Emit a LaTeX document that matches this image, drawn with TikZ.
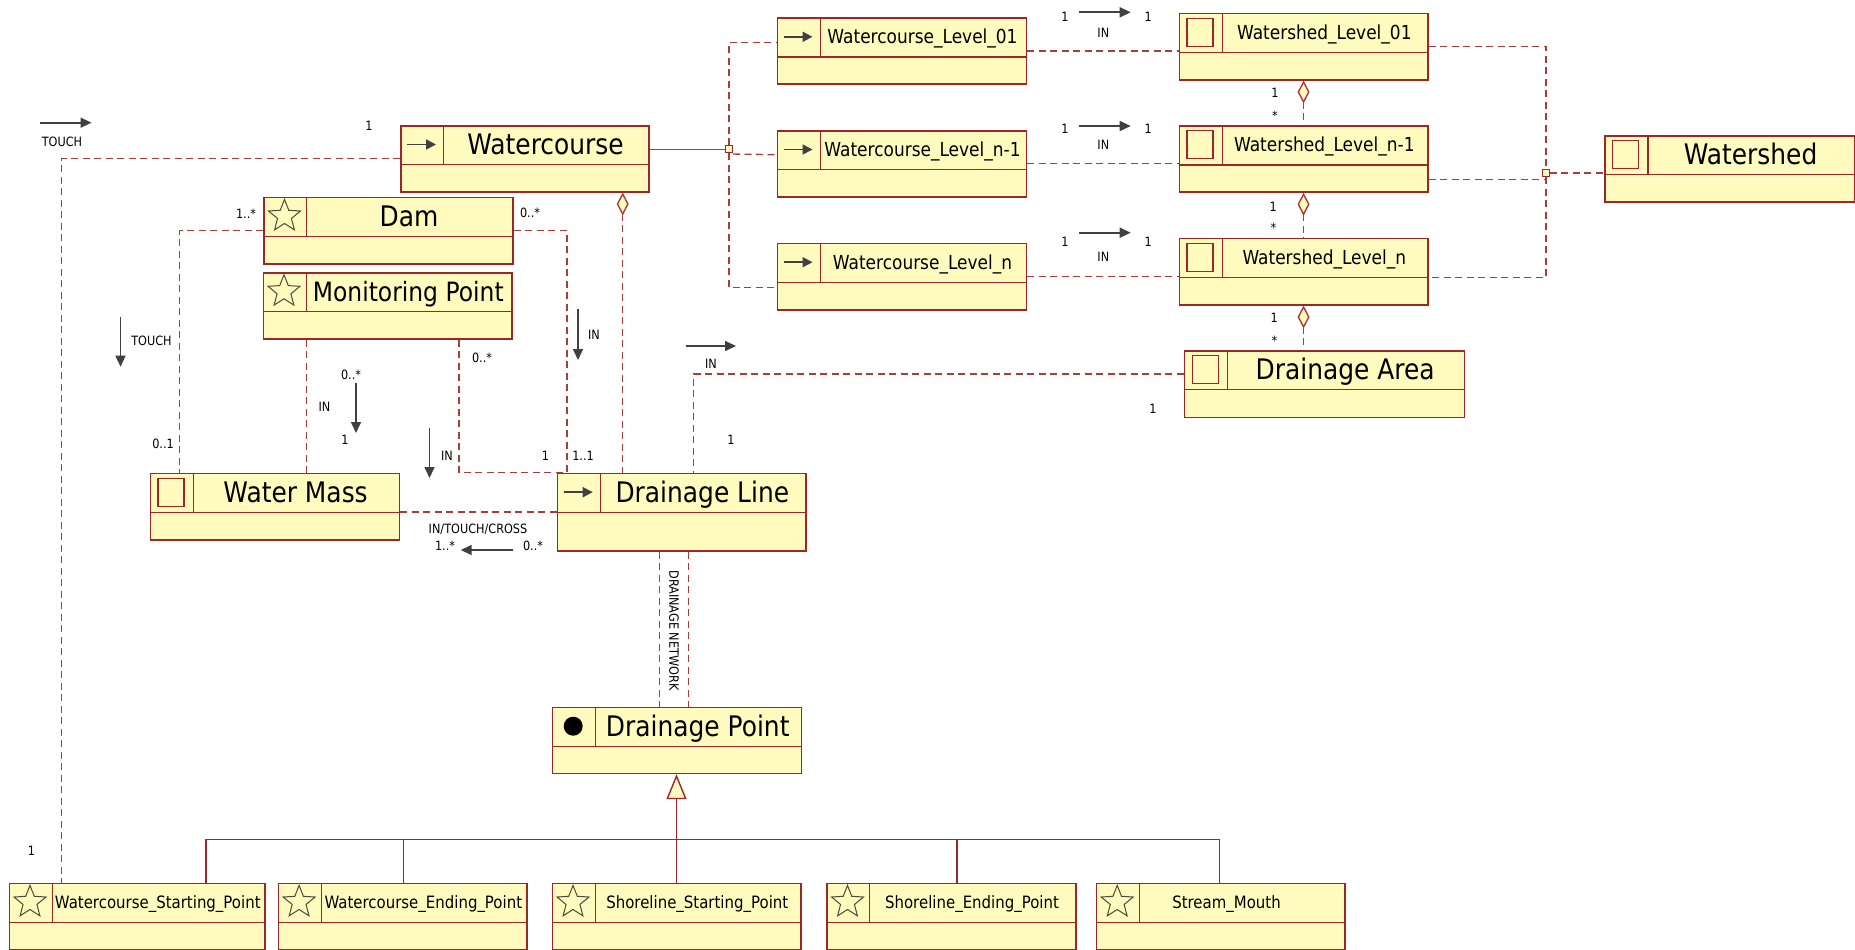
\documentclass[tikz,border=0pt]{standalone}
\usepackage{fontspec}
\setmainfont{DejaVu Sans}[FakeStretch=0.88]
\usepackage{tikz}
\usetikzlibrary{arrows.meta, shapes.geometric}

\definecolor{clsfill}{RGB}{255,250,190}
\definecolor{clsline}{RGB}{155,40,40}
\definecolor{lnkline}{RGB}{170,60,60}
\definecolor{arrgray}{RGB}{64,64,64}
\definecolor{starline}{RGB}{75,75,55}

% class box: name, x, y, width, height, icon style, title style, title
\newcommand{\umlcls}[8]{%
  \node[cls, minimum width=#4pt, minimum height=#5pt] (#1) at (#2,#3) {};
  \node[#6] (#1-i) at (#2+21.5,#3+19.5) {};
  \node[#7] (#1-t) at (#2+21.5+#4/2,#3+19.5) {#8};
}

\begin{document}
\begin{tikzpicture}[
    x=1pt, y=-1pt,
    cls/.style={draw=clsline, fill=clsfill, line width=1.5pt, rectangle, anchor=north west, inner sep=0pt,
      path picture={\draw[clsline, line width=1.4pt]
        ([yshift=-39pt]path picture bounding box.north west) -- ([yshift=-39pt]path picture bounding box.north east)
        ([xshift=43pt]path picture bounding box.north west) -- ([xshift=43pt,yshift=-39pt]path picture bounding box.north west);}},
    ttlL/.style={font=\fontsize{28.3pt}{34pt}\selectfont, text height=20.6pt, text depth=0pt, inner sep=0pt, anchor=center},
    ttlM/.style={font=\fontsize{19.3pt}{23pt}\selectfont, text height=14.1pt, text depth=0pt, inner sep=0pt, anchor=center},
    ttlS/.style={font=\fontsize{17pt}{20pt}\selectfont, text height=12.4pt, text depth=0pt, inner sep=0pt, anchor=center},
    lbl/.style={font=\fontsize{12.8pt}{15pt}\selectfont, text height=9.3pt, text depth=0pt, inner sep=0pt, anchor=center},
    icoarrow/.style={minimum width=29pt, minimum height=14pt, inner sep=0pt,
      path picture={\draw[arrgray, line width=1.8pt, -{Triangle[length=10pt,width=10pt]}]
        (path picture bounding box.west) -- (path picture bounding box.east);}},
    icosq/.style={rectangle, draw=clsline, fill=clsfill, line width=1.3pt, minimum width=26pt, minimum height=28pt, inner sep=0pt},
    icostar/.style={star, star points=5, star point ratio=2.3, draw=starline, line width=1pt, minimum size=33.6pt, inner sep=0pt},
    icodot/.style={circle, fill=black, minimum size=19pt, inner sep=0pt},
    junc/.style={rectangle, draw=clsline, fill=clsfill, line width=1pt, minimum size=7pt, inner sep=0pt},
    assoc/.style={draw=lnkline, line width=1.4pt, dash pattern=on 7pt off 4.5pt},
    agg/.style={assoc, {Diamond[length=23pt,width=12pt,fill=clsfill]}-},
    genl/.style={draw=clsline, line width=1.4pt},
    dirarr/.style={draw=arrgray, line width=1.6pt, -{Triangle[length=11pt,width=10pt]}}
]
\useasboundingbox (0,0) rectangle (1855,950);

% Classes
\umlcls{wc}{400}{125}{248}{66}{icoarrow}{ttlL}{Watercourse}
\umlcls{dam}{263}{196.7}{249}{66.6}{icostar}{ttlL}{Dam}
\umlcls{mp}{262.5}{272}{248.5}{66}{icostar}{ttlL, font=\fontsize{26.6pt}{32pt}\selectfont}{Monitoring Point}
\umlcls{wm}{149.6}{472.7}{249}{66.6}{icosq}{ttlL}{Water Mass}
\umlcls{dl}{556.7}{472.7}{248.3}{77.3}{icoarrow}{ttlL}{Drainage Line}
\umlcls{dp}{551.7}{706.7}{249}{66}{icodot}{ttlL}{Drainage Point}
\umlcls{wl1}{776.5}{17.3}{249}{66}{icoarrow}{ttlM}{Watercourse\_Level\_01}
\umlcls{wlm}{776.5}{130}{249}{66}{icoarrow}{ttlM}{Watercourse\_Level\_n-1}
\umlcls{wln}{776.5}{242.7}{249}{66.3}{icoarrow}{ttlM}{Watercourse\_Level\_n}
\umlcls{ws1}{1178.6}{12.7}{248.4}{66.3}{icosq}{ttlM}{Watershed\_Level\_01}
\umlcls{wsm}{1178.6}{125.3}{248.4}{66}{icosq}{ttlM}{Watershed\_Level\_n-1}
\umlcls{wsn}{1178.6}{237.7}{248.4}{66.3}{icosq}{ttlM}{Watershed\_Level\_n}
\umlcls{da}{1183.7}{350}{280}{66.7}{icosq}{ttlL}{Drainage Area}
\umlcls{wsh}{1604.3}{135}{249.5}{66}{icosq}{ttlL}{Watershed}

% Point subclasses
\umlcls{wsp}{8.5}{882.7}{255.5}{66.6}{icostar}{ttlS}{Watercourse\_Starting\_Point}
\umlcls{wep}{277.6}{882.7}{248.4}{66.6}{icostar}{ttlS}{Watercourse\_Ending\_Point}
\umlcls{ssp}{551.5}{882.7}{248.5}{66.6}{icostar}{ttlS}{Shoreline\_Starting\_Point}
\umlcls{sep}{826}{882.7}{249}{66.6}{icostar}{ttlS}{Shoreline\_Ending\_Point}
\umlcls{sm}{1095.7}{882.7}{248.6}{66.6}{icostar}{ttlS, xshift=-15pt}{Stream\_Mouth}

% Junctions
\node[junc] (jwc) at (729,149.3) {};
\node[junc] (jws) at (1545.9,173) {};
\coordinate (bus) at (675.75,839.3);

% Associations
\draw[assoc] (wc.west) -| ([xshift=53pt]wsp.north west);
\draw[assoc] (dam.west) -| ([xshift=30pt]wm.north west);
\draw[assoc] (dam.east) -| ([xshift=10.3pt]dl.north west);
\draw[assoc] ([xshift=44pt]mp.south west) -- ([xshift=44pt]mp.south west |- wm.north);
\draw[assoc] ([xshift=196.5pt]mp.south west) |- ([xshift=10.3pt]dl.north west);
\draw[agg] ([xshift=222.7pt]wc.south west) -- ([xshift=222.7pt]wc.south west |- dl.north);
\draw[assoc] (wm.east |- dl.west) -- (dl.west);
\draw[assoc] ([yshift=10pt]da.west) -| ([xshift=137pt]dl.north west);
\draw[assoc] ([xshift=102.6pt]dl.south west) -- ([xshift=102.6pt]dl.south west |- dp.north);
\draw[assoc] ([xshift=132pt]dl.south west) -- ([xshift=132pt]dl.south west |- dp.north);

% Watercourse levels
\draw[genl, draw=lnkline] (jwc) -- (jwc -| wc.east);
\draw[assoc] (jwc.north) |- ([yshift=8.6pt]wl1.west);
\draw[assoc] ([yshift=-4.7pt]jwc.east) -- ([yshift=9pt]wlm.west);
\draw[assoc] (jwc.south) |- ([yshift=-10.85pt]wln.west);
\draw[assoc] (wl1.east) -- (wl1.east -| ws1.west);
\draw[assoc] (wlm.east) -- (wlm.east -| wsm.west);
\draw[assoc] (wln.east) -- (wln.east -| wsn.west);

% Watershed levels
\draw[agg] (ws1.south) -- (wsm.north);
\draw[agg] (wsm.south) -- (wsn.north);
\draw[agg] (wsn.south) -- (wsn.south |- da.north);
\draw[assoc] (ws1.east) -| (jws.north);
\draw[assoc] (jws.south) |- ([yshift=-5.85pt]wsn.east);
\draw[assoc] ([yshift=-20.7pt]wsm.east) -- ([yshift=-20.7pt]wsm.east -| jws);
\draw[assoc] (jws.east) -- (jws.east -| wsh.west);

% Generalization
\draw[genl, -{Triangle[length=25pt,width=20pt,fill=clsfill]}] (ssp.north) -- (ssp.north |- dp.south);
\draw[genl] ([xshift=197.3pt]wsp.north west) |- (bus) -| ([xshift=124pt]sm.north west);
\draw[genl] ([xshift=125.8pt]wep.north west) -- ([xshift=125.8pt]wep.north west |- bus);
\draw[genl] ([xshift=131pt]sep.north west) -- ([xshift=131pt]sep.north west |- bus);

% Labels
\node[lbl] (touchA) at (62,141.7) {TOUCH};
\draw[dirarr] ([shift={(-22,-19)}]touchA.center) -- ([shift={(29.5,-19)}]touchA.center);
\node[lbl] (m1) at (369,126) {1};
\node[lbl] (m2) at (31.5,850.7) {1};
\node[lbl] (m3) at (246,214) {1..*};
\node[lbl] (m4) at (530,213) {0..*};
\node[lbl] (touchB) at (151.5,341) {TOUCH};
\draw[dirarr] ([shift={(-31,-24.3)}]touchB.center) -- ([shift={(-31,25.7)}]touchB.center);
\node[lbl] (m5) at (163,444) {0..1};
\node[lbl] (m6) at (351,375) {0..*};
\node[lbl] (inA) at (324.5,406.7) {IN};
\draw[dirarr] ([shift={(31.5,-23.7)}]inA.center) -- ([shift={(31.5,26.3)}]inA.center);
\node[lbl] (m7) at (345,440) {1};
\node[lbl] (inB) at (447,456) {IN};
\draw[dirarr] ([shift={(-17.5,-28)}]inB.center) -- ([shift={(-17.5,22)}]inB.center);
\node[lbl] (m8) at (482,358) {0..*};
\node[lbl] (m9) at (545.5,456) {1};
\node[lbl] (m10) at (583,456) {1..1};
\node[lbl] (inC) at (594,335) {IN};
\draw[dirarr] ([shift={(-16,-26)}]inC.center) -- ([shift={(-16,25)}]inC.center);
\node[lbl] (itc) at (478,529) {IN/TOUCH/CROSS};
\node[lbl] (m11) at (445,545.7) {1..*};
\node[lbl] (m12) at (533,545.7) {0..*};
\draw[dirarr] ([shift={(35.3,21)}]itc.center) -- ([shift={(-17.3,21)}]itc.center);
\node[lbl, rotate=-90] (dnet) at (674,630.5) {DRAINAGE NETWORK};
\node[lbl] (inD) at (711,364) {IN};
\draw[dirarr] ([shift={(-25,-18)}]inD.center) -- ([shift={(25,-18)}]inD.center);
\node[lbl] (m13) at (731,440) {1};
\node[lbl] (m14) at (1153,409.3) {1};

% Level rows
\node[lbl] (ra1) at (1065,16.7) {1};
\node[lbl] (rb1) at (1148.3,16.7) {1};
\node[lbl] (rin1) at (1103.3,32.7) {IN};
\draw[dirarr] ([shift={(-24.3,-20.4)}]rin1.center) -- ([shift={(27.4,-20.4)}]rin1.center);
\node[lbl] (ra2) at (1065,129.3) {1};
\node[lbl] (rb2) at (1148.3,129.3) {1};
\node[lbl] (rin2) at (1103.3,145) {IN};
\draw[dirarr] ([shift={(-24.3,-19)}]rin2.center) -- ([shift={(27.4,-19)}]rin2.center);
\node[lbl] (ra3) at (1065,241.7) {1};
\node[lbl] (rb3) at (1148.3,241.7) {1};
\node[lbl] (rin3) at (1103.3,257.3) {IN};
\draw[dirarr] ([shift={(-24.3,-24.6)}]rin3.center) -- ([shift={(27.4,-24.6)}]rin3.center);

% Aggregation multiplicities
\node[lbl] (ga1) at (1275,92.7) {1};
\node[lbl] (gs1) at (1275,115.5) {*};
\node[lbl] (ga2) at (1273.3,206.7) {1};
\node[lbl] (gs2) at (1273.3,228.3) {*};
\node[lbl] (ga3) at (1274.3,318.3) {1};
\node[lbl] (gs3) at (1274.3,340.6) {*};

\end{tikzpicture}
\end{document}
